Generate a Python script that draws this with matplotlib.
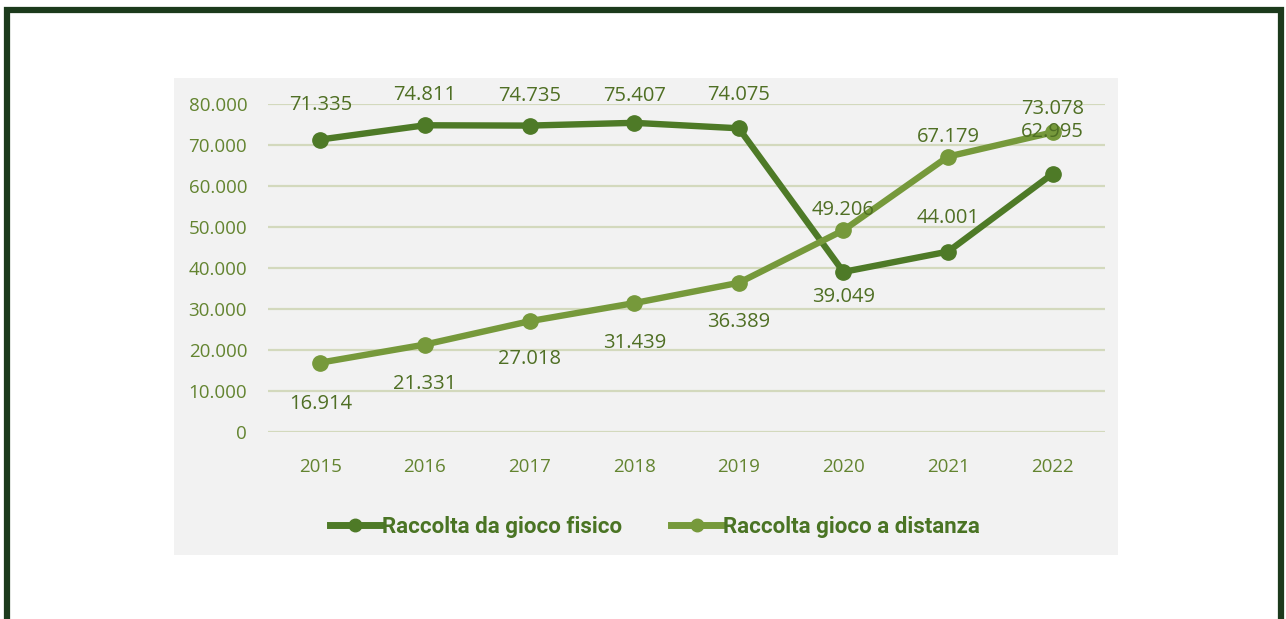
import matplotlib
matplotlib.use("Agg")
import matplotlib.pyplot as plt
from matplotlib.patches import Rectangle
from matplotlib.lines import Line2D

years = ["2015", "2016", "2017", "2018", "2019", "2020", "2021", "2022"]
fisico = [71335, 74811, 74735, 75407, 74075, 39049, 44001, 62995]
distanza = [16914, 21331, 27018, 31439, 36389, 49206, 67179, 73078]
yticks = [0, 10000, 20000, 30000, 40000, 50000, 60000, 70000, 80000]
ytick_labels = ["0", "10.000", "20.000", "30.000", "40.000", "50.000", "60.000", "70.000", "80.000"]
series_names = ["Raccolta da gioco fisico", "Raccolta gioco a distanza"]

# label offsets in pixels (positive = up), roughly where excel put them
fisico_off = [35, 30, 30, 27, 33, -25, 34, 42]
distanza_off = [-41, -39, -38, -40, -39, 20, 20, 23]

dark = "#4e7a27"
light = "#76993b"
txt = "#4f6f24"
tick_col = "#638430"

W, H = 1286, 619
fig = plt.figure(figsize=(W / 100, H / 100), dpi=100)
fig.patch.set_facecolor("white")

# outer frame and grey chart panel
fig.patches.append(Rectangle((7 / W, -0.05), (1281 - 7) / W, (H - 10) / H + 0.05,
                             transform=fig.transFigure, fill=False,
                             edgecolor="#1c3a1c", linewidth=4.5, zorder=5))
fig.patches.append(Rectangle((174 / W, 1 - 555 / H), (1118 - 174) / W, (555 - 78) / H,
                             transform=fig.transFigure, facecolor="#f2f2f2",
                             edgecolor="none", zorder=-1))

ax = fig.add_axes([268 / W, 1 - 432 / H, (1105 - 268) / W, (432 - 104) / H])
ax.set_zorder(2)
ax.set_facecolor("none")
x = range(len(years))

ax.set_ylim(0, 80000)
ax.set_xlim(-0.5, len(years) - 0.5)
for s in ax.spines.values():
    s.set_visible(False)
ax.set_yticks(yticks)
ax.set_yticklabels(ytick_labels)
ax.set_xticks(list(x))
ax.set_xticklabels(years)
ax.tick_params(length=0, labelsize=13.5, labelcolor=tick_col)
ax.tick_params(axis="y", pad=15)
ax.tick_params(axis="x", pad=19)
for lab in ax.get_xticklabels() + ax.get_yticklabels():
    lab.set_fontfamily("Open Sans")
ax.yaxis.grid(True, color="#d3d9bd", linewidth=1.6)
ax.set_axisbelow(True)

ax.plot(x, fisico, color=dark, lw=4.6, marker="o", ms=11, solid_capstyle="round", zorder=3)
ax.plot(x, distanza, color=light, lw=4.6, marker="o", ms=11, solid_capstyle="round", zorder=3)

for vals, offs in [(fisico, fisico_off), (distanza, distanza_off)]:
    for i, (v, o) in enumerate(zip(vals, offs)):
        lbl = f"{v:,}".replace(",", ".")
        ax.annotate(lbl, (i, v), xytext=(0, o * 0.72), textcoords="offset points",
                    ha="center", va="center", fontsize=14.5, color=txt,
                    family="Open Sans", zorder=4)

handles = [Line2D([], [], color=dark, lw=5, marker="o", ms=9),
           Line2D([], [], color=light, lw=5, marker="o", ms=9)]
leg = fig.legend(handles, series_names, loc="center", bbox_to_anchor=(655 / W, 1 - 527 / H),
                 ncol=2, frameon=False, handlelength=2.3, handletextpad=0.05,
                 columnspacing=2.2,
                 prop={"family": "Roboto", "weight": "bold", "size": 16})
for t in leg.get_texts():
    t.set_color("#4a7424")

fig.savefig("out.png", dpi=100)
